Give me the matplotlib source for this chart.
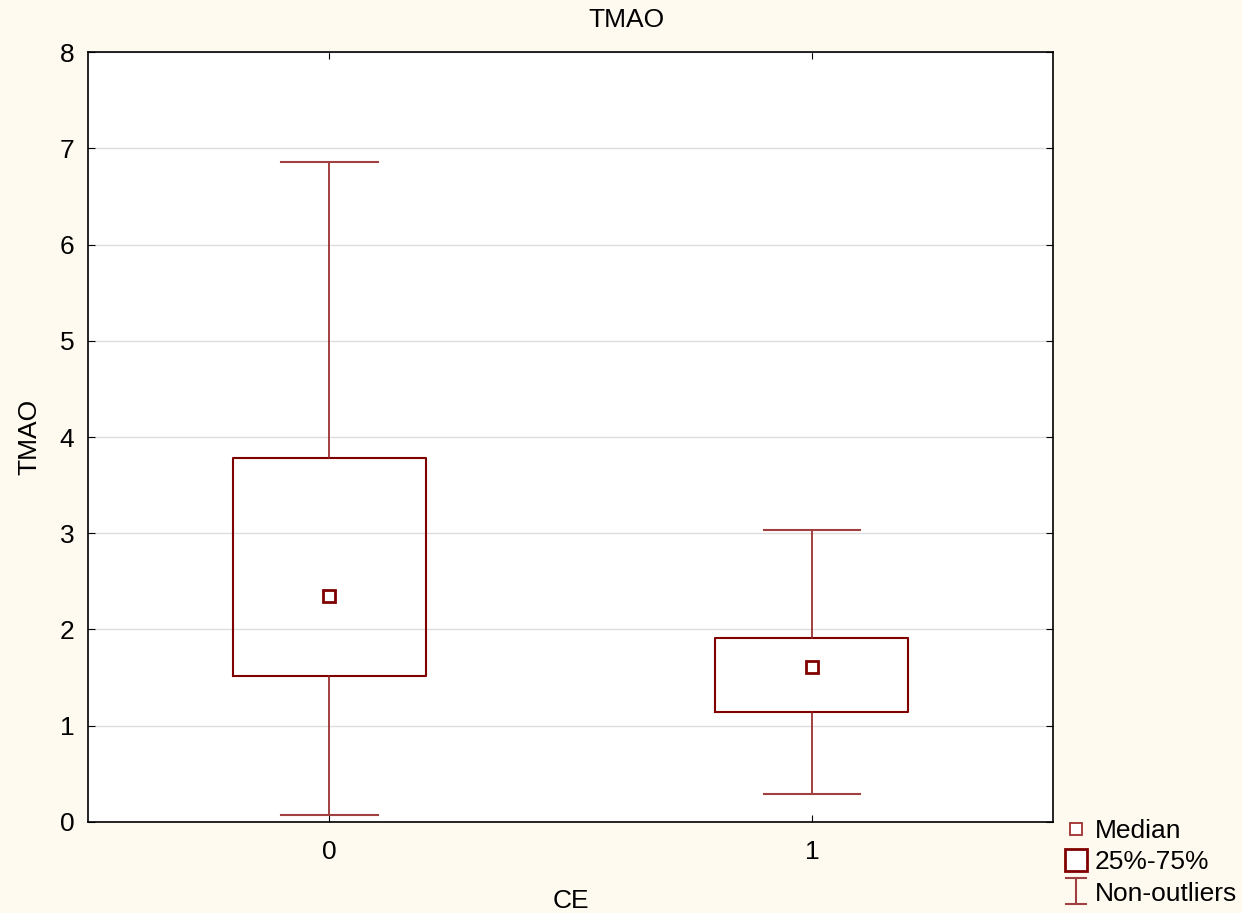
import matplotlib.pyplot as plt
from matplotlib.lines import Line2D
from matplotlib.path import Path

plt.rcParams['font.family'] = ['Liberation Sans', 'DejaVu Sans']

groups = ['0', '1']
medians = [2.35, 1.61]
q1 = [1.52, 1.14]
q3 = [3.78, 1.91]
whis_lo = [0.07, 0.29]
whis_hi = [6.86, 3.03]

red = '#800000'
bg = '#FFFAF0'
fs = 19

stats = []
for i in range(len(groups)):
    stats.append({'label': groups[i], 'med': medians[i], 'mean': medians[i],
                  'q1': q1[i], 'q3': q3[i],
                  'whislo': whis_lo[i], 'whishi': whis_hi[i], 'fliers': []})

fig = plt.figure(figsize=(12.42, 9.13), dpi=100, facecolor=bg)
ax = fig.add_axes([0.0709, 0.0997, 0.777, 0.8433])

ax.bxp(stats, positions=[0, 1], widths=0.4, showmeans=True, showfliers=False,
       boxprops=dict(color=red, linewidth=1.5),
       whiskerprops=dict(color='#902020', linewidth=1.2),
       capprops=dict(color='#a04040', linewidth=1.5),
       medianprops=dict(linewidth=0),
       meanprops=dict(marker='s', markersize=9, markerfacecolor='white',
                      markeredgecolor=red, markeredgewidth=2),
       capwidths=0.2, zorder=3)

ax.set_xlim(-0.5, 1.5)
ax.set_ylim(0, 8)
ax.set_xticks([0, 1])
ax.set_xticklabels(groups)
ax.set_yticks(range(0, 9))
ax.yaxis.grid(True, color='#dddddd', linewidth=1)
ax.set_axisbelow(True)
ax.tick_params(direction='in', length=5, top=True, right=True, labelsize=fs)
ax.tick_params(axis='y', pad=10)
ax.tick_params(axis='x', pad=13)
for s in ax.spines.values():
    s.set_linewidth(1.2)

fig.text(0.504, 0.978, 'TMAO', fontsize=fs, ha='center', va='center')
ax.set_xlabel('CE', fontsize=fs, labelpad=18)
ax.set_ylabel('TMAO', fontsize=fs, labelpad=13)

# whisker-style legend glyph: cap, stem, cap
cap_path = Path([(-0.8, -1), (0.8, -1), (0, -1), (0, 1), (-0.8, 1), (0.8, 1)],
                [Path.MOVETO, Path.LINETO, Path.MOVETO, Path.LINETO,
                 Path.MOVETO, Path.LINETO])

handles = [
    Line2D([], [], linestyle='none', marker='s', markersize=9,
           markerfacecolor='white', markeredgecolor='#a03030', markeredgewidth=1.3),
    Line2D([], [], linestyle='none', marker='s', markersize=16,
           markerfacecolor='white', markeredgecolor=red, markeredgewidth=2),
    Line2D([], [], linestyle='none', marker=cap_path, markersize=19,
           markerfacecolor='none', markeredgecolor='#a04040', markeredgewidth=1.5),
]
fig.legend(handles, ['Median', '25%-75%', 'Non-outliers'],
           loc='lower right', bbox_to_anchor=(1.0045, -0.0035), frameon=False,
           fontsize=fs, handletextpad=0.2, labelspacing=0.28,
           borderaxespad=0.0, handlelength=1.0)

fig.savefig('out.png', dpi=100, facecolor=bg)
